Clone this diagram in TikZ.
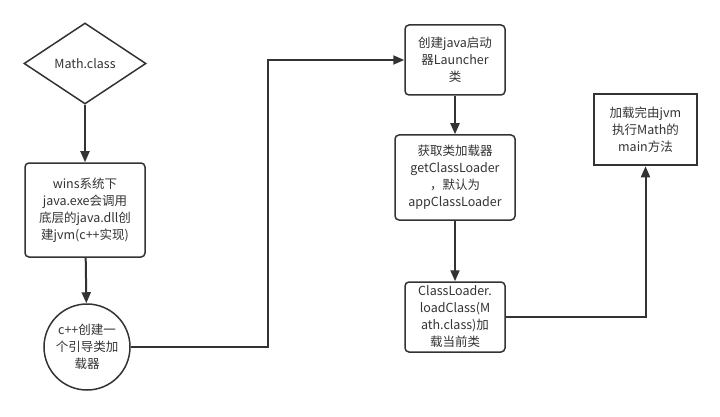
\documentclass[tikz,border=0pt]{standalone}
\usepackage{fontspec}
\setmainfont{Noto Sans CJK SC}
\usepackage{tikz}
\usetikzlibrary{shapes.geometric, arrows.meta}
\definecolor{ink}{HTML}{333333}

\begin{document}
\begin{tikzpicture}[x=1pt, y=-1pt]
\tikzstyle{stepbox}=[rectangle, rounded corners=4pt, draw=ink, line width=1.5pt, align=center, text=ink, font=\fontsize{12.5}{17}\selectfont]
\tikzstyle{arr}=[draw=ink, line width=2pt, -{Triangle[length=11pt, width=9pt]}]

\useasboundingbox (0,0) rectangle (720,417);

\node[diamond, draw=ink, line width=1.5pt, inner sep=0pt, aspect=1.5,
    minimum width=122pt, minimum height=81pt, text=ink,
    font=\fontsize{12.5}{17}\selectfont] (math) at (85,63.5) {Math.class};

\node[stepbox, minimum width=120pt, minimum height=94pt] (wins) at (85,210)
    {wins系统下\\java.exe会调用\\底层的java.dll创\\建jvm(c++实现)};

\node[stepbox, circle, minimum size=86pt, inner sep=0pt] (boot) at (87,347)
    {c++创建一\\个引导类加\\载器};

\node[stepbox, minimum width=100pt, minimum height=70pt] (launcher) at (455,60)
    {创建java启动\\器Launcher\\类};

\node[stepbox, minimum width=120pt, minimum height=85pt] (getcl) at (455,177.5)
    {获取类加载器\\getClassLoader\\，默认为\\appClassLoader};

\node[stepbox, minimum width=100pt, minimum height=70pt] (load) at (455,317)
    {ClassLoader.\\loadClass(M\\ath.class)加\\载当前类};

\node[stepbox, rounded corners=0pt, line width=2.5pt, minimum width=103pt,
    minimum height=71pt] (done) at (645.5,129.5)
    {加载完由jvm\\执行Math的\\main方法};

\coordinate (bend) at (268,347);

\draw[arr] (math) -- (wins);
\draw[arr] (wins) -- (boot);
\draw[arr] (boot.east) -- (bend) |- (launcher.west);
\draw[arr] (launcher) -- (getcl);
\draw[arr] (getcl) -- (load);
\draw[arr] (load.east) -| (done.south);
\end{tikzpicture}
\end{document}
